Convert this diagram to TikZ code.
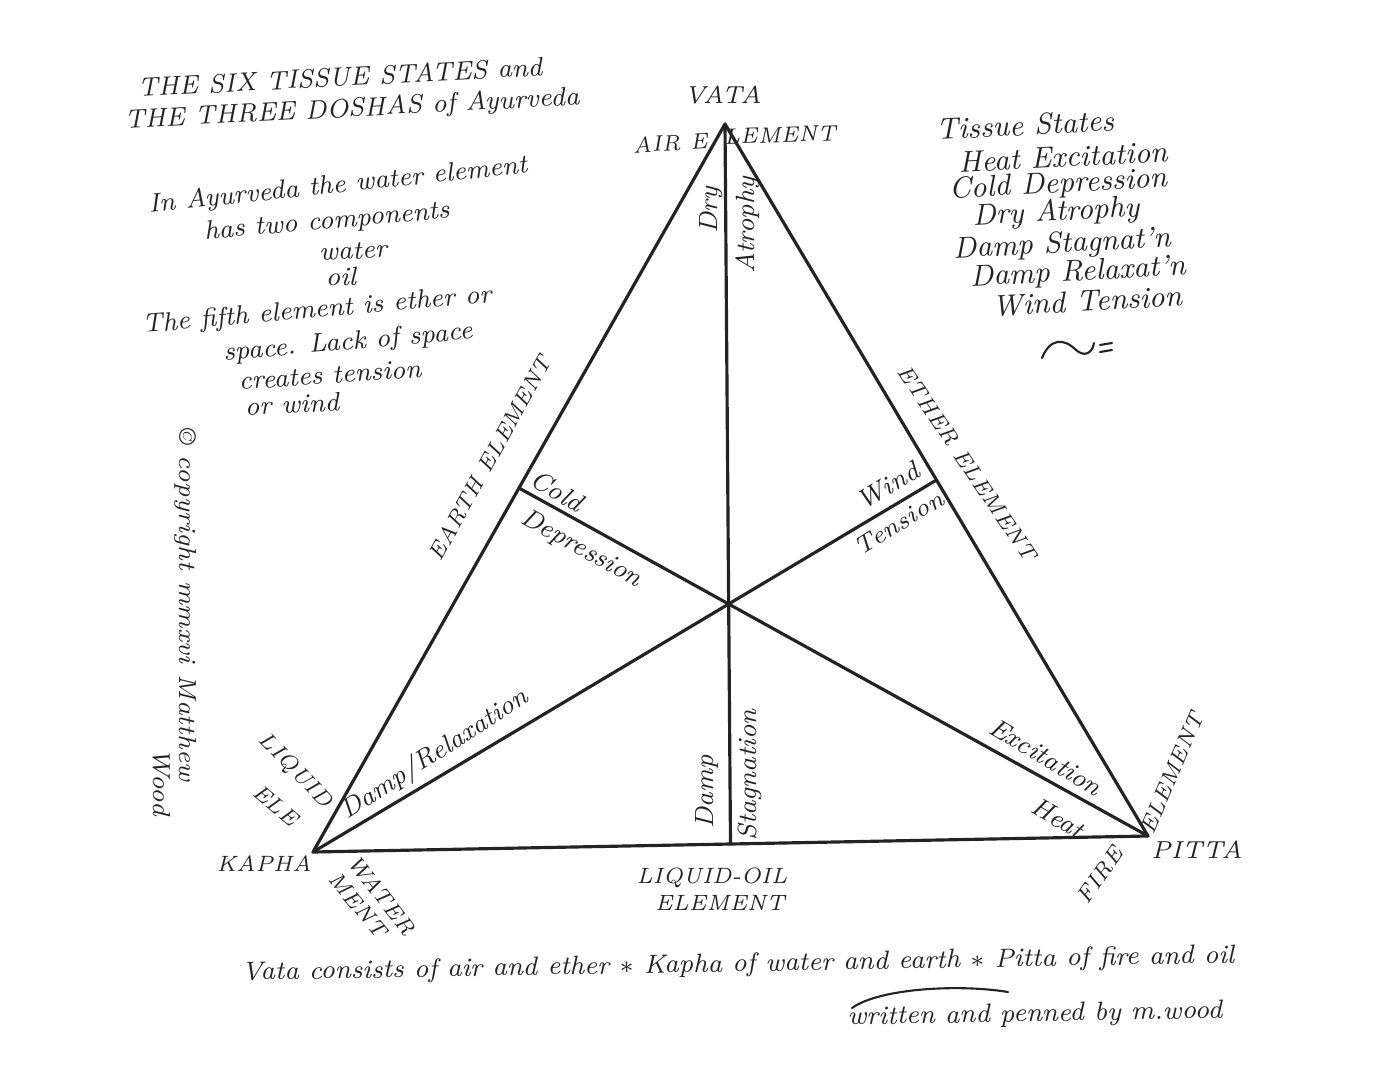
\documentclass[tikz,border=0pt]{standalone}
\usepackage{tikz}
\usetikzlibrary{calc}
\definecolor{inkline}{RGB}{35,35,35}
\tikzset{
  edge/.style ={draw=inkline, line width=0.9pt, line cap=round},
  flour/.style={draw=inkline, line width=0.6pt, line cap=round},
  hand/.style ={font=\itshape\fontsize{7.5}{8}\selectfont, text=inkline, inner sep=1pt},
  hands/.style={font=\itshape\fontsize{7}{8}\selectfont, text=inkline, inner sep=1pt},
  handl/.style={font=\itshape\fontsize{8.5}{9}\selectfont, text=inkline, inner sep=1pt},
  caps/.style ={font=\itshape\fontsize{6.3}{7}\selectfont, text=inkline, inner sep=1pt},
}

\begin{document}
\begin{tikzpicture}[x=0.01cm,y=-0.01cm]
  \useasboundingbox[fill=white] (0,0) rectangle (1396,1078);
  \coordinate (vata) at (725,124);
  \coordinate (kapha) at (313,852);
  \coordinate (pitta) at (1148,836);
  \coordinate (midkp) at ($(kapha)!0.5!(pitta)$);
  \coordinate (midvk) at ($(vata)!0.5!(kapha)$);
  \coordinate (midvp) at ($(vata)!0.5!(pitta)$);
  \draw[edge,line join=round] (vata) -- (kapha) -- (pitta) -- cycle;
  \draw[edge] (vata) -- (midkp);
  \draw[edge] (pitta) -- (midvk);
  \draw[edge] (kapha) -- (midvp);
  \node[hand,rotate=3] (title1) at (340,77) {THE SIX TISSUE STATES and};
  \node[hand,rotate=3] (title2) at (352,110) {THE THREE DOSHAS of Ayurveda};
  \node[hand,rotate=6] (note1) at (338,186) {In Ayurveda the water element};
  \node[hand,rotate=5] (note2) at (327,222) {has two components};
  \node[hand,rotate=3] (note3) at (353,251) {water};
  \node[hand] (note4) at (341,276) {oil};
  \node[hand,rotate=5] (note5) at (317,311) {The fifth element is ether or};
  \node[hand,rotate=5] (note6) at (348,343) {space. Lack of space};
  \node[hand,rotate=4] (note7) at (330,375) {creates tension};
  \node[hand,rotate=3] (note8) at (292,404) {or wind};
  \node[handl,rotate=3] (ts0) at (1025,125) {Tissue States};
  \node[handl,rotate=3] (ts1) at (1063,157) {Heat Excitation};
  \node[handl,rotate=3] (ts2) at (1058,185) {Cold Depression};
  \node[handl,rotate=3] (ts3) at (1056,213) {Dry Atrophy};
  \node[handl,rotate=3] (ts4) at (1062,245) {Damp Stagnat'n};
  \node[handl,rotate=3] (ts5) at (1078,273) {Damp Relaxat'n};
  \node[handl,rotate=3] (ts6) at (1087,301) {Wind Tension};
  \draw[flour] (1042,358) .. controls (1050,338) and (1064,338) .. (1076,350)
    .. controls (1084,357) and (1092,354) .. (1094,343);
  \draw[flour] (1100,345) -- (1112,343);
  \draw[flour] (1100,352) -- (1112,350);
  \node[hands,rotate=-90] (copy1) at (186,605) {\textcopyright\ copyright mmxvi Matthew};
  \node[hands,rotate=-90] (copy2) at (162,782) {Wood};
  \node[caps,font=\itshape\fontsize{7}{8}\selectfont] (vatalab) at (723,95) {VATA};
  \node[caps,rotate=4] (air1) at (670,143) {AIR E};
  \node[caps,rotate=2] (air2) at (780,135) {LEMENT};
  \node[hand,rotate=90] (dry) at (711,210) {Dry};
  \node[hand,rotate=90] (atrophy) at (748,225) {Atrophy};
  \node[caps,rotate=61] (earth) at (490,458) {EARTH ELEMENT};
  \node[caps,rotate=-56] (ether) at (967,463) {ETHER ELEMENT};
  \node[hand,rotate=-30] (cold) at (557,491) {Cold};
  \node[hand,rotate=-29] (depr) at (581,549) {Depression};
  \node[hand,rotate=31] (wind) at (888,486) {Wind};
  \node[hands,rotate=32] (tens) at (899,523) {Tension};
  \node[hand,rotate=33] (relax) at (435,755) {Damp/Relaxation};
  \node[hand,rotate=-31] (excit) at (1046,757) {Excitation};
  \node[hand,rotate=-30] (heat) at (1058,818) {Heat};
  \node[hand,rotate=90] (damp) at (707,792) {Damp};
  \node[hand,rotate=90] (stag) at (750,775) {Stagnation};
  \node[caps,rotate=-46] (liq1) at (295,771) {LIQUID};
  \node[caps,rotate=-40] (liq2) at (276,805) {ELE};
  \node[caps] (kaphalab) at (264,864) {KAPHA};
  \node[caps,rotate=-52] (wat1) at (382,895) {WATER};
  \node[caps,rotate=-50] (wat2) at (358,905) {MENT};
  \node[caps] (oil1) at (712,878) {LIQUID-OIL};
  \node[caps] (oil2) at (720,903) {ELEMENT};
  \node[caps,rotate=55] (fire) at (1100,875) {FIRE};
  \node[caps,rotate=67] (fire2) at (1172,773) {ELEMENT};
  \node[caps,font=\itshape\fontsize{7}{8}\selectfont] (pittalab) at (1197,850) {PITTA};
  \node[hand,rotate=1] (summary) at (738,965) {Vata consists of air and ether $\ast$ Kapha of water and earth $\ast$ Pitta of fire and oil};
  \node[hand,rotate=1] (sign) at (1035,1015) {written and penned by m.wood};
  \draw[flour] (852,1008) .. controls (880,988) and (960,984) .. (1008,992);
\end{tikzpicture}
\end{document}
